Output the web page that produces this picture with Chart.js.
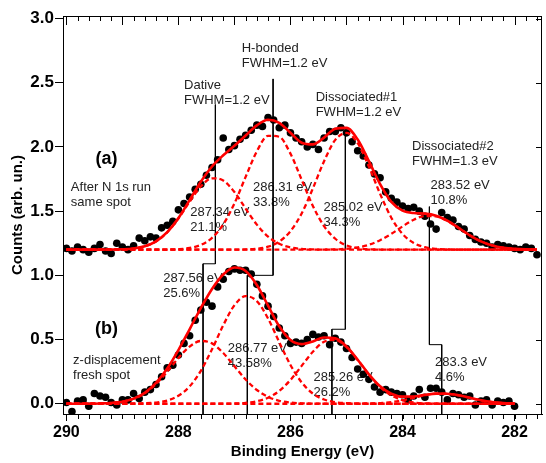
<!DOCTYPE html>
<html>
<head>
<meta charset="utf-8">
<script src="https://cdn.jsdelivr.net/npm/chart.js"></script>
<style>
  body { margin: 0; background: #fff; }
</style>
</head>
<body>
<canvas id="xps" width="546" height="463"></canvas>
<script>
// measured points, spectrum (a) - after N 1s run, offset by 1.2
const dotE_a = [290.0,289.9,289.8,289.7,289.6,289.5,289.4,289.3,289.2,289.1,
  289.0,288.9,288.8,288.7,288.6,288.5,288.4,288.3,288.2,288.1,
  288.0,287.9,287.8,287.7,287.6,287.5,287.4,287.3,287.2,287.1,
  287.0,286.9,286.8,286.7,286.6,286.5,286.4,286.3,286.2,286.1,
  286.0,285.9,285.8,285.7,285.6,285.5,285.4,285.3,285.2,285.1,
  285.0,284.9,284.8,284.7,284.6,284.5,284.4,284.3,284.2,284.1,
  284.0,283.9,283.8,283.7,283.6,283.5,283.4,283.3,283.2,283.1,
  283.0,282.9,282.8,282.7,282.6,282.5,282.4,282.3,282.2,282.1,
  282.0,281.9,281.8,281.7,281.6];
const dot_a = [1.21,1.19,1.22,1.20,1.18,1.21,1.24,1.19,1.17,1.25,
  1.22,1.20,1.23,1.29,1.27,1.30,1.29,1.37,1.39,1.42,
  1.51,1.56,1.61,1.67,1.71,1.78,1.84,1.90,2.07,1.98,
  2.01,2.06,2.09,2.13,2.17,2.16,2.23,2.21,2.15,2.17,
  2.11,2.07,2.04,2.00,2.02,1.98,2.07,2.12,2.12,2.15,
  2.11,2.04,1.97,1.93,1.86,1.79,1.76,1.65,1.60,1.57,
  1.54,1.52,1.53,1.50,1.46,1.40,1.36,1.49,1.45,1.43,
  1.38,1.36,1.31,1.28,1.26,1.25,1.22,1.24,1.23,1.22,
  1.21,1.20,1.22,1.21,1.16];

// measured points, spectrum (b) - z-displacement, fresh spot
const dotE_b = [290.0,289.9,289.8,289.7,289.6,289.5,289.4,289.3,289.2,289.1,
  289.0,288.9,288.8,288.7,288.6,288.5,288.4,288.3,288.2,288.1,
  288.0,287.9,287.8,287.7,287.6,287.5,287.4,287.3,287.2,287.1,
  287.0,286.9,286.8,286.7,286.6,286.5,286.4,286.3,286.2,286.1,
  286.0,285.9,285.8,285.7,285.6,285.5,285.4,285.3,285.2,285.1,
  285.0,284.9,284.8,284.7,284.6,284.5,284.4,284.3,284.2,284.1,
  284.0,283.9,283.8,283.7,283.6,283.5,283.4,283.3,283.2,283.1,
  283.0,282.9,282.8,282.7,282.6,282.5,282.4,282.3,282.2,282.1,
  282.0];
const dot_b = [0.01,-0.06,0.02,0.03,-0.02,0.08,0.06,0.05,0.01,-0.01,
  0.03,0.03,0.08,0.04,0.09,0.11,0.15,0.21,0.28,0.30,
  0.38,0.47,0.53,0.65,0.73,0.79,0.76,0.91,0.97,1.03,
  1.05,1.04,1.04,1.01,0.93,0.84,0.76,0.68,0.59,0.53,
  0.47,0.48,0.47,0.50,0.54,0.52,0.53,0.46,0.51,0.48,
  0.43,0.36,0.27,0.23,0.19,0.13,0.09,0.11,0.09,0.08,
  0.07,0.03,0.06,0.11,0.05,0.12,0.12,0.09,0.03,0.08,
  0.07,0.05,0.06,-0.01,0.02,0.03,-0.01,0.02,0.01,0.02,
  -0.02];

// fitted curves, spectrum (a)
const fitE_a = [290.0,289.8,289.6,289.4,289.2,289.0,288.8,288.6,288.4,288.2,
  288.0,287.8,287.6,287.4,287.2,287.0,286.8,286.6,286.4,286.2,
  286.0,285.8,285.6,285.4,285.2,285.0,284.8,284.6,284.4,284.2,
  284.0,283.8,283.6,283.4,283.2,283.0,282.8,282.6,282.4,282.2,
  282.0,281.8,281.6];
const envelope_a = [1.200,1.200,1.200,1.200,1.201,1.203,1.209,1.226,1.264,1.336,
  1.446,1.586,1.729,1.848,1.935,2.009,2.089,2.168,2.212,2.188,
  2.110,2.033,2.020,2.073,2.142,2.149,2.058,1.889,1.710,1.572,
  1.504,1.485,1.481,1.465,1.426,1.370,1.312,1.265,1.233,1.215,
  1.206,1.202,1.201];
const dative_a = [1.2,1.2,1.2,1.2,1.2,1.203,1.209,1.226,1.264,1.335,
  1.442,1.573,1.692,1.756,1.739,1.649,1.520,1.395,1.302,1.246,
  1.218,1.206,1.202,1.2,1.2,1.2,1.2,1.2,1.2,1.2,
  1.2,1.2,1.2,1.2,1.2,1.2,1.2,1.2,1.2,1.2,
  1.2,1.2,1.2];
const hbond_a = [1.2,1.2,1.2,1.2,1.2,1.2,1.2,1.2,1.2,1.201,
  1.204,1.213,1.237,1.292,1.396,1.560,1.767,1.966,2.087,2.079,
  1.948,1.745,1.541,1.383,1.285,1.233,1.211,1.203,1.201,1.2,
  1.2,1.2,1.2,1.2,1.2,1.2,1.2,1.2,1.2,1.2,
  1.2,1.2,1.2];
const diss1_a = [1.2,1.2,1.2,1.2,1.2,1.2,1.2,1.2,1.2,1.2,
  1.2,1.2,1.2,1.2,1.2,1.200,1.202,1.207,1.223,1.263,
  1.344,1.482,1.677,1.889,2.055,2.109,2.029,1.848,1.635,1.449,
  1.323,1.252,1.219,1.206,1.202,1.200,1.2,1.2,1.2,1.2,
  1.2,1.2,1.2];
const diss2_a = [1.2,1.2,1.2,1.2,1.2,1.2,1.2,1.2,1.2,1.2,
  1.2,1.2,1.2,1.2,1.2,1.2,1.2,1.2,1.2,1.2,
  1.2,1.2,1.200,1.201,1.202,1.207,1.218,1.238,1.274,1.323,
  1.381,1.433,1.462,1.459,1.424,1.370,1.312,1.265,1.233,1.215,
  1.206,1.202,1.201];

// fitted curves, spectrum (b)
const fitE_b = [290.0,289.8,289.6,289.4,289.2,289.0,288.8,288.6,288.4,288.2,
  288.0,287.8,287.6,287.4,287.2,287.0,286.8,286.6,286.4,286.2,
  286.0,285.8,285.6,285.4,285.2,285.0,284.8,284.6,284.4,284.2,
  284.0,283.8,283.6,283.4,283.2,283.0,282.8,282.6,282.4,282.2,
  282.0];
const envelope_b = [0.000,0.000,0.000,0.002,0.006,0.016,0.040,0.085,0.162,0.274,
  0.418,0.580,0.745,0.894,1.007,1.061,1.034,0.925,0.764,0.603,
  0.496,0.464,0.485,0.516,0.509,0.446,0.343,0.229,0.136,0.078,
  0.055,0.056,0.069,0.079,0.078,0.066,0.046,0.027,0.013,0.005,
  0.002];
const peak1_b = [0,0,0,0.002,0.006,0.016,0.039,0.082,0.153,0.249,
  0.356,0.445,0.489,0.470,0.395,0.292,0.189,0.107,0.053,0.023,
  0.009,0.003,0.001,0,0,0,0,0,0,0,
  0,0,0,0,0,0,0,0,0,0,
  0];
const peak2_b = [0,0,0,0,0,0,0.001,0.003,0.009,0.025,
  0.062,0.135,0.256,0.424,0.611,0.767,0.838,0.799,0.664,0.480,
  0.302,0.166,0.079,0.033,0.012,0.004,0.001,0,0,0,
  0,0,0,0,0,0,0,0,0,0,
  0];
const peak3_b = [0,0,0,0,0,0,0,0,0,0,
  0,0,0,0,0.001,0.002,0.007,0.019,0.047,0.100,
  0.185,0.295,0.405,0.483,0.497,0.442,0.341,0.227,0.131,0.065,
  0.028,0.010,0.003,0.001,0,0,0,0,0,0,
  0];
const peak4_b = [0,0,0,0,0,0,0,0,0,0,
  0,0,0,0,0,0,0,0,0,0,
  0,0,0,0,0,0,0.001,0.002,0.005,0.013,
  0.027,0.046,0.066,0.078,0.078,0.066,0.046,0.027,0.013,0.005,
  0.002];

// leader lines joining peak positions of (a) and (b)
const leadE = [
  [287.34, 287.34, 287.56, 287.56],
  [286.31, 286.31, 286.77, 286.77],
  [285.02, 285.02, 285.26, 285.26],
  [283.52, 283.52, 283.30, 283.30]];
const leadY = [
  [2.33, 1.09, 1.09, -0.08],
  [2.53, 1.00, 1.00, -0.08],
  [2.15, 0.58, 0.58, -0.08],
  [1.535, 0.46, 0.46, -0.08]];

// annotations (first-line baseline in data units)
const labelLines = [
  ['H-bonded', 'FWHM=1.2 eV'],
  ['Dative', 'FWHM=1.2 eV'],
  ['Dissociated#1', 'FWHM=1.2 eV'],
  ['Dissociated#2', 'FWHM=1.3 eV'],
  ['(a)'],
  ['After N 1s run', 'same spot'],
  ['287.34 eV', '21.1%'],
  ['286.31 eV', '33.8%'],
  ['285.02 eV', '34.3%'],
  ['283.52 eV', '10.8%'],
  ['287.56 eV', '25.6%'],
  ['286.77 eV', '43.58%'],
  ['285.26 eV', '26.2%'],
  ['283.3 eV', '4.6%'],
  ['(b)'],
  ['z-displacement', 'fresh spot']];
const labelE = [286.87, 287.90, 285.55, 283.83, 289.48, 289.92, 287.79, 286.67,
  285.41, 283.50, 288.27, 287.12, 285.59, 283.42, 289.49, 289.88];
const labelV = [2.740, 2.451, 2.358, 1.976, 1.871, 1.656, 1.461, 1.656,
  1.500, 1.672, 0.950, 0.401, 0.175, 0.292, 0.546, 0.312];
const labelBold = [false, false, false, false, true, false, false, false,
  false, false, false, false, false, false, true, false];

const xTicks = [282, 284, 286, 288, 290];
const yTicks = [0, 0.5, 1.0, 1.5, 2.0, 2.5, 3.0];

const FONT = '"Liberation Sans", Arial, sans-serif';
const RED = '#ff0000';

function pts(xs, ys) { return xs.map((x, i) => ({ x: x, y: ys[i] })); }

function dashed(xs, ys) {
  return { data: pts(xs, ys), showLine: true, borderColor: RED, borderWidth: 2.3,
    borderDash: [5, 3], pointRadius: 0, cubicInterpolationMode: 'monotone', order: 1 };
}
function solid(xs, ys) {
  return { data: pts(xs, ys), showLine: true, borderColor: RED, borderWidth: 2.6,
    pointRadius: 0, cubicInterpolationMode: 'monotone', order: 0 };
}
function dots(xs, ys) {
  return { data: pts(xs, ys), showLine: false, pointRadius: 3.8, pointBorderWidth: 0,
    pointBackgroundColor: '#000', order: 3 };
}

const datasets = [
  dots(dotE_a, dot_a), dots(dotE_b, dot_b),
  dashed(fitE_a, dative_a), dashed(fitE_a, hbond_a), dashed(fitE_a, diss1_a), dashed(fitE_a, diss2_a),
  dashed(fitE_b, peak1_b), dashed(fitE_b, peak2_b), dashed(fitE_b, peak3_b), dashed(fitE_b, peak4_b),
  solid(fitE_a, envelope_a), solid(fitE_b, envelope_b)
];
leadE.forEach((xs, i) => {
  datasets.push({ data: pts(xs, leadY[i]), showLine: true, borderColor: '#000',
    borderWidth: 1, pointRadius: 0, tension: 0, order: 2 });
});

const textPlugin = {
  id: 'texts',
  beforeDatasetsDraw(chart) {
    const ctx = chart.ctx, x = chart.scales.x, y = chart.scales.y;
    ctx.save();
    ctx.textBaseline = 'alphabetic';
    labelLines.forEach((lines, i) => {
      ctx.font = labelBold[i] ? 'bold 18px ' + FONT : '13px ' + FONT;
      ctx.fillStyle = labelBold[i] ? '#000' : '#222';
      const px = x.getPixelForValue(labelE[i]);
      const py = y.getPixelForValue(labelV[i]);
      lines.forEach((t, k) => ctx.fillText(t, px, py + k * 15));
    });
    ctx.restore();
  }
};

const framePlugin = {
  id: 'frame',
  afterDraw(chart) {
    const ctx = chart.ctx, a = chart.chartArea, x = chart.scales.x, y = chart.scales.y;
    ctx.save();
    ctx.strokeStyle = '#000';
    ctx.lineWidth = 1;
    ctx.beginPath();
    ctx.moveTo(a.left, a.top + 0.5); ctx.lineTo(a.right, a.top + 0.5);
    ctx.moveTo(a.right - 0.5, a.top); ctx.lineTo(a.right - 0.5, a.bottom);
    for (let k = 0; k <= 42; k++) {
      const e = 281.6 + k * 0.2;
      const px = Math.round(x.getPixelForValue(e)) + 0.5;
      const major = Math.abs(e - Math.round(e)) < 0.01;
      ctx.moveTo(px, a.top); ctx.lineTo(px, a.top + (major ? 9 : 5));
      ctx.moveTo(px, a.bottom); ctx.lineTo(px, a.bottom + 5);
    }
    yTicks.forEach(v => {
      const py = Math.round(y.getPixelForValue(v)) + 0.5;
      ctx.moveTo(a.right, py); ctx.lineTo(a.right - 6, py);
    });
    ctx.stroke();
    ctx.restore();
  }
};

new Chart(document.getElementById('xps'), {
  type: 'scatter',
  data: { datasets: datasets },
  plugins: [textPlugin, framePlugin],
  options: {
    responsive: false,
    animation: false,
    layout: { padding: { top: 16, right: 1, left: 0, bottom: 0 } },
    plugins: { legend: { display: false }, tooltip: { enabled: false } },
    scales: {
      x: {
        type: 'linear', reverse: true, min: 281.51, max: 290.06,
        afterBuildTicks: s => { s.ticks = xTicks.map(v => ({ value: v })); },
        afterFit: s => { s.height = 49; },
        grid: { drawOnChartArea: false, tickLength: 7, color: '#000', lineWidth: 1 },
        border: { color: '#000', width: 1 },
        ticks: { color: '#000', padding: 2, maxRotation: 0,
          font: { family: FONT, size: 16, weight: 'bold' },
          callback: v => String(v) },
        title: { display: true, text: 'Binding Energy (eV)', color: '#000',
          font: { family: FONT, size: 15, weight: 'bold' }, padding: { top: 0, bottom: 2 } }
      },
      y: {
        min: -0.08, max: 3.02,
        afterBuildTicks: s => { s.ticks = yTicks.map(v => ({ value: v })); },
        afterFit: s => { s.width = 63; },
        grid: { drawOnChartArea: false, tickLength: 8, color: '#000', lineWidth: 1 },
        border: { color: '#000', width: 1 },
        ticks: { color: '#000', padding: 1,
          font: { family: FONT, size: 17, weight: 'bold' },
          callback: v => v.toFixed(1) },
        title: { display: true, text: 'Counts (arb. un.)', color: '#000',
          font: { family: FONT, size: 15, weight: 'bold' }, padding: { top: 9, bottom: 0 } }
      }
    }
  }
});
</script>
</body>
</html>
